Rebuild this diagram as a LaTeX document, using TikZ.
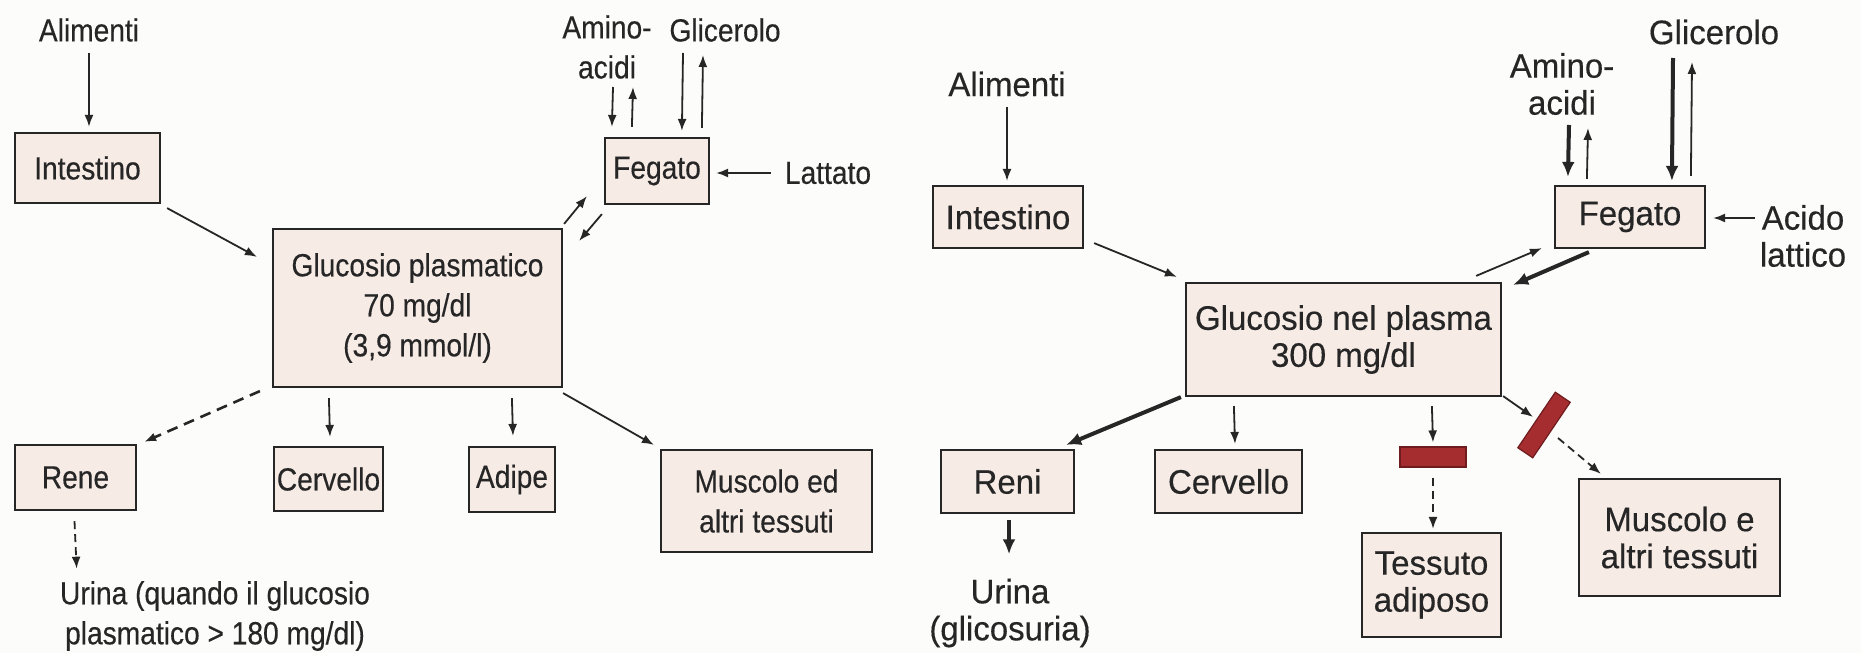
\documentclass[tikz,border=0pt]{standalone}
\usepackage{fontspec}
\usetikzlibrary{arrows.meta,calc}
\newfontfamily\leftface[FakeStretch=0.88,FakeBold=0.35]{Liberation Sans}
\newfontfamily\rightface[FakeStretch=0.97,FakeBold=0.35]{Liberation Sans}
\definecolor{paper}{HTML}{FCFCFA}
\definecolor{boxfill}{HTML}{F7EBE6}
\definecolor{ink}{HTML}{262626}
\definecolor{barred}{HTML}{A52D30}
\definecolor{bardark}{HTML}{6E1C1E}
\begin{document}
\begin{tikzpicture}[x=0.5pt,y=-0.5pt,
  lfont/.style={font=\leftface\fontsize{16pt}{20pt}\selectfont},
  rfont/.style={font=\rightface\fontsize{17pt}{18.5pt}\selectfont},
  organ/.style={draw=ink, line width=1.1pt, fill=boxfill, inner sep=0pt, align=center, text=ink},
  tag/.style={inner sep=0pt, align=center, text=ink},
  blocker/.style={draw=bardark, line width=0.6pt, fill=barred, inner sep=0pt},
  thinarr/.style={draw=ink, line width=0.9pt, -{Latex[length=6pt,width=4.5pt]}},
  thickarr/.style={draw=ink, line width=2pt, -{Latex[length=7.5pt,width=6.5pt]}},
  dasharrow/.style={thinarr, dash pattern=on 5.5pt off 3.5pt},
  finedash/.style={thinarr, dash pattern=on 4pt off 2.5pt}]

\useasboundingbox (0,0) rectangle (1861,653);
\fill[paper] (0,0) rectangle (1861,653);

% ---------- normal glycaemia ----------
\node[tag, lfont] (aliL) at (89,30) {Alimenti};
\node[organ, lfont, minimum width=72.5pt, minimum height=35pt] (intL) at (87.5,168) {Intestino};
\node[organ, lfont, minimum width=144.5pt, minimum height=79pt] (gluL) at (417.5,308)
  {Glucosio plasmatico\\70 mg/dl\\(3,9 mmol/l)};
\node[organ, lfont, minimum width=52pt, minimum height=33pt] (fegL) at (657,171) {Fegato};
\node[tag, lfont] (latL) at (828,173) {Lattato};
\node[tag, lfont] (amiL) at (607,47) {Amino-\\acidi};
\node[tag, lfont] (gliL) at (725,30) {Glicerolo};
\node[organ, lfont, minimum width=60.5pt, minimum height=32.5pt] (reneL) at (75.5,477.5) {Rene};
\node[organ, lfont, minimum width=54.5pt, minimum height=32pt] (cerL) at (328.5,479) {Cervello};
\node[organ, lfont, minimum width=43pt, minimum height=32.5pt] (adiL) at (512,479.5) {Adipe};
\node[organ, lfont, minimum width=105.5pt, minimum height=51pt] (musL) at (766.5,501)
  {Muscolo ed\\altri tessuti};
\node[tag, lfont] (uriL) at (215,616) {Urina (quando il glucosio\\plasmatico > 180 mg/dl)};

\draw[thinarr] ($(aliL)+(0,23)$) -- ($(intL.north)+(1.5,-5)$);
\draw[thinarr] ($(intL.south east)+(6,4)$) -- ($(gluL.north west)+(-15,29)$);
\draw[thinarr] ($(gluL.north east)+(1,-4)$) -- ($(fegL.south west)+(-17,-9)$);
\draw[thinarr] ($(fegL.south west)+(-2,9)$) -- ($(gluL.north east)+(16,13)$);
\draw[thinarr] ($(latL)+(-57,0)$) -- ($(fegL.east)+(6,2)$);
\draw[thinarr] ($(amiL)+(6,40)$) -- ($(fegL.north west)+(8,-10)$);
\draw[thinarr] ($(fegL.north west)+(28,-10)$) -- ($(amiL)+(26,40)$);
\draw[thinarr] ($(gliL)+(-42,23)$) -- ($(fegL.north west)+(78,-6)$);
\draw[thinarr] ($(fegL.north west)+(98,-9)$) -- ($(gliL)+(-22,25)$);
\draw[dasharrow, line width=1.3pt] ($(gluL.south west)+(-12,3)$) -- ($(reneL.north east)+(7,-2)$);
\draw[thinarr] ($(gluL.south west)+(57,10)$) -- ($(cerL.north)+(1.5,-9)$);
\draw[thinarr] ($(gluL.south west)+(240,10)$) -- ($(adiL.north)+(1,-10)$);
\draw[thinarr] ($(gluL.south east)+(0,5)$) -- ($(musL.north west)+(-6,-4)$);
\draw[finedash] ($(reneL.south)+(-1,10)$) -- ($(uriL.north west)+(17,-12)$);

% ---------- hyperglycaemia ----------
\node[tag, rfont] (aliR) at (1007,84) {Alimenti};
\node[organ, rfont, minimum width=75pt, minimum height=31pt] (intR) at (1008,217) {Intestino};
\node[organ, rfont, minimum width=157.5pt, minimum height=56.5pt] (gluR) at (1343.5,339.5)
  {Glucosio nel plasma\\300 mg/dl};
\node[organ, rfont, minimum width=75pt, minimum height=31pt] (fegR) at (1630,217) {Fegato};
\node[tag, rfont] (acR) at (1803,236) {Acido\\lattico};
\node[tag, rfont] (amiR) at (1562,84) {Amino-\\acidi};
\node[tag, rfont] (gliR) at (1714,32) {Glicerolo};
\node[organ, rfont, minimum width=66.5pt, minimum height=31.5pt] (reniR) at (1007.5,481.5) {Reni};
\node[tag, rfont] (uriR) at (1010,613) {Urina\\(glicosuria)};
\node[organ, rfont, minimum width=73.5pt, minimum height=31.5pt] (cerR) at (1228.5,481.5) {Cervello};
\node[organ, rfont, minimum width=69.5pt, minimum height=52pt] (tesR) at (1431.5,585) {Tessuto\\adiposo};
\node[organ, rfont, minimum width=100.5pt, minimum height=58.5pt] (musR) at (1679.5,537.5)
  {Muscolo e\\altri tessuti};
\node[blocker, minimum width=33pt, minimum height=10pt] (barT) at (1433,457) {};
\node[blocker, minimum width=33.5pt, minimum height=9pt, rotate=56] (barM) at (1544,425) {};

\draw[thinarr] ($(aliR)+(0,23)$) -- ($(intR.north)+(-1,-4)$);
\draw[thinarr] ($(intR.south east)+(10,-6)$) -- ($(gluR.north west)+(-8,-5)$);
\draw[thinarr] ($(gluR.north east)+(-26,-6)$) -- ($(fegR.south west)+(-12,-1)$);
\draw[thickarr] ($(fegR.south west)+(35,3)$) -- ($(gluR.north east)+(11,3)$);
\draw[thinarr] ($(acR.west)+(-5,-18)$) -- ($(fegR.east)+(7,1)$);
\draw[thickarr] ($(amiR)+(7,41)$) -- ($(fegR.north west)+(14,-8)$);
\draw[thinarr] ($(fegR.north west)+(33,-6)$) -- ($(amiR)+(26,44)$);
\draw[thickarr] ($(gliR)+(-41,26)$) -- ($(fegR.north west)+(118,-4)$);
\draw[thinarr] ($(fegR.north west)+(137,-9)$) -- ($(gliR)+(-22,30)$);
\draw[thickarr] ($(gluR.south west)+(-4,0)$) -- ($(reniR.north east)+(-9,-4)$);
\draw[thickarr] ($(reniR.south)+(1.5,6)$) -- ($(uriR.north)+(-1,-24)$);
\draw[thinarr] ($(gluR.south west)+(49,9)$) -- ($(cerR.north)+(6.5,-5)$);
\draw[thinarr] ($(gluR.south west)+(247,9)$) -- ($(barT.north)+(0,-4)$);
\draw[finedash] ($(barT.south)+(0,10)$) -- ($(tesR.north)+(1.5,-3)$);
\draw[thinarr] ($(gluR.south east)+(1,-1)$) -- ($(barM.center)+(-11,-8)$);
\draw[finedash] ($(barM.center)+(14,13)$) -- ($(musR.north west)+(23,-4)$);
\end{tikzpicture}
\end{document}
